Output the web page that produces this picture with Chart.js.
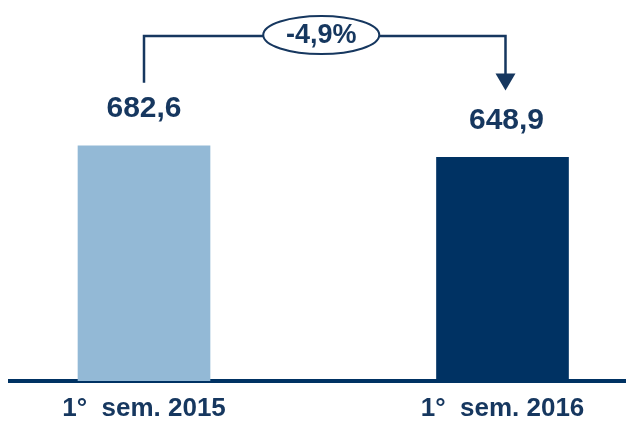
<!DOCTYPE html>
<html>
<head>
<meta charset="utf-8">
<script src="https://cdn.jsdelivr.net/npm/chart.js@4"></script>
<style>
  html, body { margin: 0; padding: 0; background: #fff; }
  #wrap { width: 626px; height: 421px; }
</style>
</head>
<body>
<div id="wrap"><canvas id="chart"></canvas></div>
<script>
// Chart data.
const categories = ['1°  sem. 2015', '1°  sem. 2016'];
const values = [682.6, 648.9];
const barColors = ['#93b9d6', '#003263'];

const navy = '#16375f';

// Format a number the italian way (comma decimal).
const fmt = (v, d) => v.toFixed(d).replace('.', ',');

// Value labels and the change bracket above the bars.
const annotations = {
  id: 'annotations',
  afterDatasetsDraw: (chart) => {
    const {ctx} = chart;
    const meta = chart.getDatasetMeta(0);
    const x0 = meta.data[0].x, x1 = meta.data[1].x;
    const y0 = meta.data[0].y, y1 = meta.data[1].y;
    ctx.save();
    ctx.fillStyle = navy;
    ctx.font = 'bold 30px "Liberation Sans", Arial, sans-serif';
    ctx.textAlign = 'center';
    ctx.textBaseline = 'middle';
    meta.data.forEach((bar, i) => {
      ctx.fillText(fmt(values[i], 1), bar.x + i * 4, bar.y - 37);
    });

    // Bracket.
    const top = 36;
    const cx = (x0 + x1) / 2 - 2;
    const rx = 58, ry = 19;
    const ax = x1 + 3;
    ctx.strokeStyle = navy;
    ctx.lineWidth = 2.5;
    ctx.beginPath();
    ctx.moveTo(x0, y0 - 63);
    ctx.lineTo(x0, top);
    ctx.lineTo(cx - rx, top);
    ctx.moveTo(cx + rx, top);
    ctx.lineTo(ax, top);
    ctx.lineTo(ax, y1 - 82);
    ctx.stroke();
    // Arrow head.
    ctx.beginPath();
    ctx.moveTo(ax - 10, y1 - 84);
    ctx.lineTo(ax + 10, y1 - 84);
    ctx.lineTo(ax, y1 - 67);
    ctx.closePath();
    ctx.fill();
    // Ellipse with percentage.
    ctx.lineWidth = 2;
    ctx.beginPath();
    ctx.ellipse(cx, top - 1, rx, ry, 0, 0, Math.PI * 2);
    ctx.fillStyle = '#fff';
    ctx.fill();
    ctx.stroke();
    ctx.fillStyle = navy;
    ctx.font = 'bold 27px "Liberation Sans", Arial, sans-serif';
    const pct = (values[1] / values[0] - 1) * 100;
    ctx.fillText(fmt(pct, 1) + '%', cx, top);
    ctx.restore();
  }
};

const ctx = document.getElementById('chart').getContext('2d');
new Chart(ctx, {
  type: 'bar',
  data: {
    datasets: [{
      data: values.map((v, i) => ({x: i, y: v})),
      backgroundColor: barColors,
      barThickness: 132,
    }],
  },
  options: {
    responsive: true,
    maintainAspectRatio: false,
    animation: false,
    layout: {
      padding: {left: 10, right: 0, top: 2, bottom: 0},
    },
    plugins: {
      legend: {display: false},
      tooltip: {enabled: false},
    },
    scales: {
      x: {
        type: 'linear',
        offset: false,
        min: -0.3738,
        max: 1.3445,
        afterBuildTicks: (scale) => {
          scale.ticks = categories.map((c, i) => ({value: i}));
        },
        // Fix the axis band height so the baseline sits where the reference has it.
        afterFit: (scale) => {
          scale.height = 40;
        },
        grid: {display: false, drawTicks: false},
        border: {display: true, color: '#003263', width: 4},
        ticks: {
          color: navy,
          padding: 19,
          font: {family: '"Liberation Sans", Arial, sans-serif', size: 26, weight: 'bold', lineHeight: 0.69},
          callback: (v) => categories[v] ?? '',
        },
      },
      y: {
        display: false,
        min: 0,
        max: 1100,
      },
    },
  },
  plugins: [annotations],
});
</script>
</body>
</html>
